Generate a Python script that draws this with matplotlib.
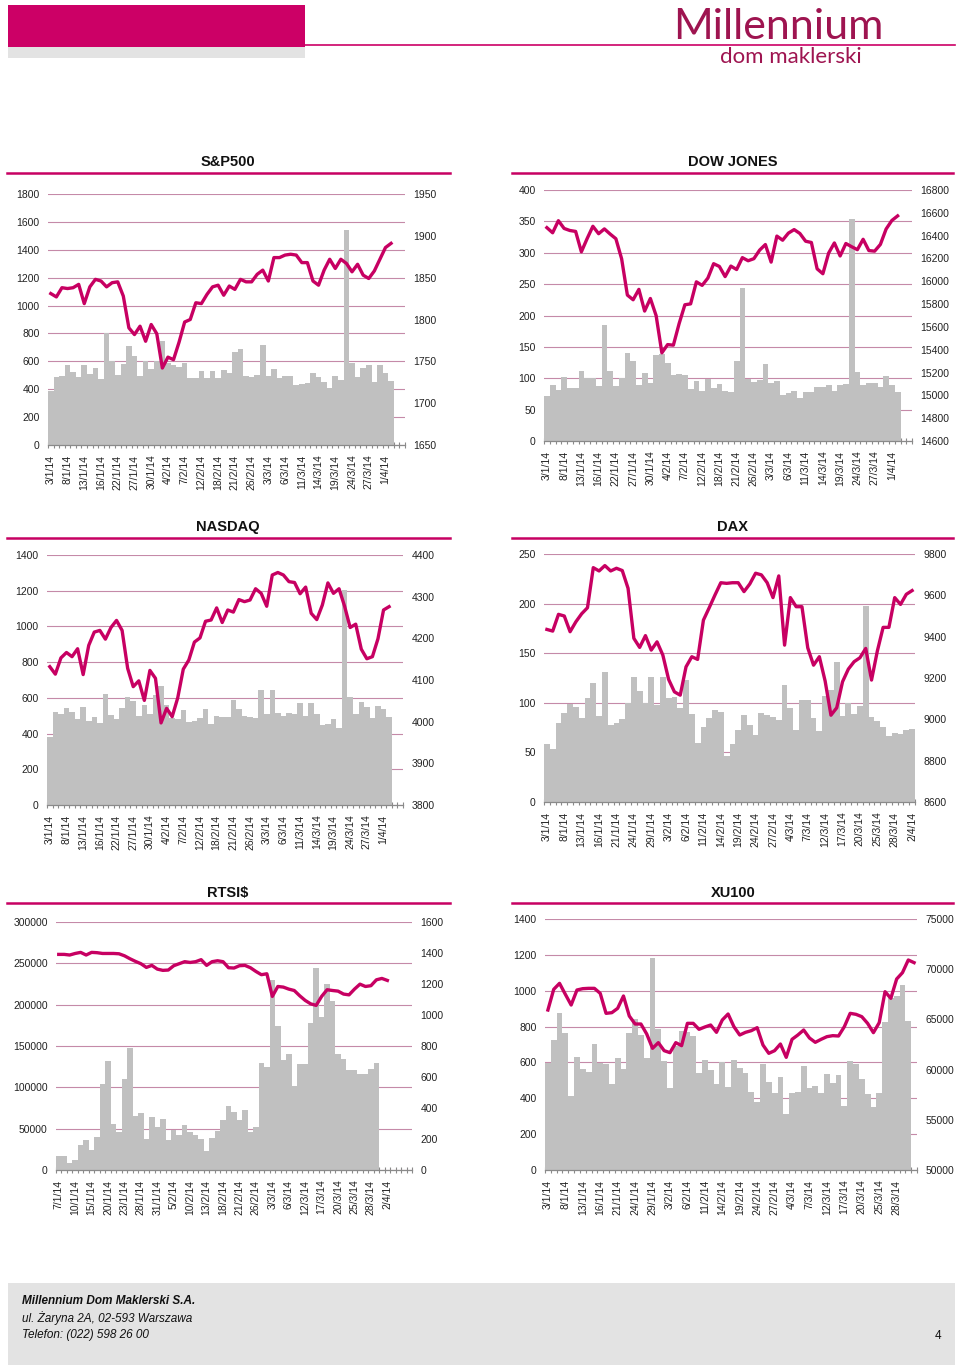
import matplotlib
matplotlib.use("Agg")
import matplotlib.pyplot as plt
from matplotlib.lines import Line2D
from matplotlib.patches import Rectangle
import numpy as np

plt.rcParams['font.family'] = ['Liberation Sans', 'DejaVu Sans']

W, H = 960, 1367
MAG = '#c70062'
GRID = '#c58aa8'
BAR = '#c0c0c0'

# ---------------- data ----------------
US_DATES = ['3/1/14', '8/1/14', '13/1/14', '16/1/14', '22/1/14', '27/1/14', '30/1/14', '4/2/14',
            '7/2/14', '12/2/14', '18/2/14', '21/2/14', '26/2/14', '3/3/14', '6/3/14', '11/3/14',
            '14/3/14', '19/3/14', '24/3/14', '27/3/14', '1/4/14']
DAX_DATES = ['3/1/14', '8/1/14', '13/1/14', '16/1/14', '21/1/14', '24/1/14', '29/1/14', '3/2/14',
             '6/2/14', '11/2/14', '14/2/14', '19/2/14', '24/2/14', '27/2/14', '4/3/14', '7/3/14',
             '12/3/14', '17/3/14', '20/3/14', '25/3/14', '28/3/14', '2/4/14']
RTS_DATES = ['7/1/14', '10/1/14', '15/1/14', '20/1/14', '23/1/14', '28/1/14', '31/1/14', '5/2/14',
             '10/2/14', '13/2/14', '18/2/14', '21/2/14', '26/2/14', '3/3/14', '6/3/14', '12/3/14',
             '17/3/14', '20/3/14', '25/3/14', '28/3/14', '2/4/14']
XU_DATES = ['3/1/14', '8/1/14', '13/1/14', '16/1/14', '21/1/14', '24/1/14', '29/1/14', '3/2/14',
            '6/2/14', '11/2/14', '14/2/14', '19/2/14', '24/2/14', '27/2/14', '4/3/14', '7/3/14',
            '12/3/14', '17/3/14', '20/3/14', '25/3/14', '28/3/14']

SP_VOL = [385, 490, 497, 575, 520, 485, 572, 510, 553, 472, 805, 600, 503, 578, 712, 636, 497, 605,
          545, 600, 745, 585, 575, 560, 585, 480, 480, 530, 483, 533, 483, 537, 518, 670, 690, 497,
          490, 503, 715, 497, 542, 478, 497, 495, 430, 440, 445, 515, 490, 452, 407, 497, 468, 1545,
          585, 490, 555, 577, 452, 577, 515, 462]
SP_IDX = [1831, 1827, 1838, 1837, 1838, 1842, 1819, 1839, 1848, 1846, 1839, 1844, 1845, 1828, 1790,
          1782, 1792, 1774, 1794, 1783, 1742, 1755, 1752, 1773, 1797, 1800, 1820, 1819, 1830, 1839,
          1841, 1829, 1840, 1836, 1848, 1845, 1845, 1854, 1859, 1846, 1874, 1874, 1877, 1878, 1877,
          1868, 1868, 1846, 1841, 1859, 1872, 1861, 1872, 1867, 1857, 1866, 1853, 1849, 1858, 1872,
          1886, 1891]

DJ_VOL = [72, 89, 81, 102, 84, 85, 111, 100, 101, 88, 185, 111, 87, 100, 141, 127, 89, 109, 92, 137,
          138, 124, 105, 107, 105, 83, 96, 80, 99, 84, 91, 80, 78, 127, 244, 99, 94, 97, 122, 93, 96,
          73, 76, 80, 68, 78, 78, 86, 86, 89, 79, 90, 91, 353, 110, 89, 93, 93, 86, 104, 89, 78]
DJ_IDX = [16470, 16425, 16531, 16463, 16445, 16437, 16258, 16374, 16482, 16417, 16459, 16414, 16373,
          16197, 15879, 15838, 15929, 15739, 15849, 15699, 15373, 15445, 15440, 15629, 15794, 15802,
          15995, 15964, 16028, 16154, 16130, 16041, 16133, 16103, 16207, 16180, 16198, 16273, 16322,
          16168, 16396, 16360, 16422, 16453, 16419, 16351, 16340, 16109, 16066, 16247, 16336, 16222,
          16331, 16303, 16277, 16368, 16269, 16264, 16323, 16458, 16533, 16573]

NQ_VOL = [380, 523, 510, 546, 523, 482, 548, 471, 492, 458, 620, 503, 482, 546, 607, 583, 499, 559,
          507, 617, 664, 561, 490, 484, 533, 464, 473, 486, 536, 454, 499, 495, 493, 587, 535, 497,
          493, 490, 645, 510, 645, 516, 501, 514, 507, 574, 501, 570, 508, 449, 456, 479, 434, 1205,
          606, 510, 576, 551, 486, 553, 538, 495]
NQ_IDX = [4132, 4114, 4153, 4166, 4156, 4175, 4113, 4183, 4215, 4219, 4198, 4226, 4243, 4219, 4128,
          4084, 4098, 4051, 4123, 4104, 3997, 4032, 4012, 4057, 4126, 4148, 4191, 4201, 4241, 4244,
          4273, 4238, 4268, 4263, 4293, 4288, 4292, 4319, 4308, 4277, 4352, 4358, 4352, 4336, 4334,
          4307, 4323, 4260, 4245, 4280, 4333, 4308, 4319, 4277, 4226, 4234, 4174, 4151, 4156, 4199,
          4268, 4276]

DAX_VOL = [58, 53, 80, 90, 99, 96, 85, 105, 120, 87, 131, 78, 80, 84, 100, 126, 112, 100, 126, 98,
           126, 105, 106, 95, 123, 89, 59, 76, 85, 93, 91, 46, 58, 73, 88, 78, 68, 90, 88, 86, 83,
           118, 95, 73, 103, 103, 85, 72, 107, 113, 141, 87, 100, 89, 97, 198, 86, 82, 76, 67, 70,
           69, 73, 74]
DAX_IDX = [9435, 9427, 9508, 9500, 9424, 9472, 9511, 9540, 9734, 9718, 9744, 9718, 9731, 9720, 9634,
           9392, 9348, 9405, 9335, 9375, 9311, 9193, 9133, 9117, 9254, 9303, 9290, 9480, 9540, 9602,
           9661, 9658, 9661, 9661, 9618, 9655, 9707, 9699, 9661, 9589, 9694, 9359, 9589, 9545, 9545,
           9346, 9262, 9303, 9185, 9020, 9056, 9182, 9243, 9279, 9298, 9343, 9190, 9330, 9445, 9445,
           9589, 9556, 9605, 9623]

RTS_VOL = [17000, 17000, 8900, 12100, 29900, 36750, 24200, 40400, 104200, 132000, 55300, 45600,
           110200, 147400, 65800, 69500, 37600, 64600, 52100, 62200, 35900, 48900, 42400, 54900,
           46000, 42000, 38000, 23400, 39200, 47700, 60600, 78000, 70300, 60600, 72700, 46000, 52500,
           130000, 125200, 230200, 174500, 132500, 140600, 102200, 128000, 128400, 177700, 244300,
           185000, 225400, 204800, 140600, 134100, 121200, 120400, 116700, 116300, 122000, 129600]
RTS_IDX = [1391, 1391, 1387, 1397, 1404, 1387, 1404, 1402, 1397, 1397, 1397, 1395, 1382, 1363, 1346,
           1331, 1307, 1320, 1296, 1288, 1290, 1318, 1331, 1344, 1339, 1344, 1357, 1320, 1344, 1350,
           1344, 1305, 1303, 1318, 1320, 1305, 1281, 1260, 1266, 1120, 1184, 1180, 1167, 1158, 1124,
           1094, 1072, 1062, 1120, 1163, 1158, 1154, 1135, 1130, 1167, 1199, 1184, 1189, 1227, 1236,
           1223]

XU_VOL = [599, 725, 877, 762, 413, 628, 561, 548, 703, 595, 591, 480, 623, 561, 762, 840, 753, 627,
          1184, 788, 606, 460, 690, 775, 770, 750, 540, 613, 558, 478, 604, 465, 613, 567, 539, 437,
          381, 589, 493, 428, 517, 312, 428, 433, 580, 459, 470, 428, 533, 483, 530, 355, 608, 592,
          505, 422, 350, 430, 827, 962, 970, 1030, 833]
XU_IDX = [65936, 67995, 68592, 67497, 66434, 67928, 68061, 68094, 68094, 67596, 65604, 65670, 66102,
          67331, 65339, 64542, 64542, 63546, 62118, 62683, 61886, 61687, 62683, 62384, 64608, 64608,
          64011, 64243, 64442, 63712, 64940, 65538, 64276, 63446, 63712, 63878, 64177, 62450, 61620,
          61886, 62550, 61222, 63015, 63446, 63944, 63147, 62716, 63015, 63280, 63380, 63346, 64276,
          65604, 65505, 65272, 64608, 63678, 64675, 67762, 67098, 69024, 69655, 70916, 70651]

fig = plt.figure(figsize=(W / 100, H / 100), dpi=100)
fig.patch.set_facecolor('white')


def fx(x):
    return x / W


def fy(y):
    return 1 - y / H


def rect(x0, y0, x1, y1):
    return [fx(x0), fy(y1), (x1 - x0) / W, (y1 - y0) / H]


def hline(x0, x1, y, color, lw):
    fig.add_artist(Line2D([fx(x0), fx(x1)], [fy(y), fy(y)], color=color, lw=lw,
                          transform=fig.transFigure))


def panel(box, title, tcx, tcy, lx0, lx1, ly, vol, idx, ncat, dates,
          lticks, rticks, lfmt=str):
    ax = fig.add_axes(rect(*box))
    ax.bar(np.arange(len(vol)), vol, width=1.0, color=BAR, zorder=2, linewidth=0)
    ax.set_xlim(-0.5, ncat - 0.5)
    ax.set_ylim(lticks[0], lticks[-1])
    ax.set_yticks(lticks)
    ax.set_yticklabels([lfmt(t) for t in lticks])
    ax.yaxis.grid(True, color=GRID, lw=0.8, zorder=0)
    ax.set_axisbelow(True)
    for s in ['top', 'left', 'right']:
        ax.spines[s].set_visible(False)
    ax.spines['bottom'].set_color('#8a8a8a')
    ax.spines['bottom'].set_linewidth(0.9)
    ax.spines['bottom'].set_zorder(5)
    ax.tick_params(axis='y', length=0, pad=6, labelsize=7.5, labelcolor='#222222')
    pos = np.arange(len(dates)) * 3
    ax.set_xticks(pos)
    ax.set_xticklabels(dates, rotation=90, fontsize=7.5, color='#222222')
    ax.tick_params(axis='x', which='major', length=0, pad=7)
    ax.set_xticks(np.arange(ncat + 1) - 0.5, minor=True)
    ax.tick_params(axis='x', which='minor', direction='inout', length=5, width=0.8,
                   color='#8a8a8a')

    ax2 = ax.twinx()
    ax2.plot(np.arange(len(idx)), idx, color=MAG, lw=2.4, solid_joinstyle='round', zorder=4)
    ax2.set_ylim(rticks[0], rticks[-1])
    ax2.set_yticks(rticks)
    ax2.set_yticklabels([str(t) for t in rticks])
    ax2.tick_params(axis='y', length=0, pad=6, labelsize=7.5, labelcolor='#222222')
    for s in ax2.spines.values():
        s.set_visible(False)

    fig.text(fx(tcx), fy(tcy), title, ha='center', va='center', fontsize=10.5,
             fontweight='bold', color='#111111')
    hline(lx0, lx1, ly, MAG, 1.8)
    return ax


# --------------- header ---------------
fig.add_artist(Rectangle((fx(8), fy(47)), (305 - 8) / W, (47 - 5) / H, color='#cc0066',
                         transform=fig.transFigure, lw=0))
fig.add_artist(Rectangle((fx(8), fy(58)), (305 - 8) / W, (58 - 47) / H, color='#e3e3e3',
                         transform=fig.transFigure, lw=0))
hline(305, 955, 44.5, '#cc0066', 1.2)
fig.text(fx(673), fy(39), 'Millennium', fontsize=31, color='#9e1450', family=['Lato', 'DejaVu Sans'],
         fontweight='normal', ha='left', va='baseline')
fig.text(fx(720), fy(63), 'dom maklerski', fontsize=16, color='#9e1450',
         family=['Lato', 'DejaVu Sans'], ha='left', va='baseline')

# --------------- panels ---------------
panel((48, 194, 405, 445), 'S&P500', 228, 162, 7, 450, 173, SP_VOL, SP_IDX, 64, US_DATES,
      list(range(0, 1801, 200)), list(range(1650, 1951, 50)))
panel((544, 190, 912, 441), 'DOW JONES', 733, 162, 512, 953, 173, DJ_VOL, DJ_IDX, 64, US_DATES,
      list(range(0, 401, 50)), list(range(14600, 16801, 200)))
panel((47, 555, 403, 805), 'NASDAQ', 228, 527, 7, 450, 538, NQ_VOL, NQ_IDX, 64, US_DATES,
      list(range(0, 1401, 200)), list(range(3800, 4401, 100)))
panel((544, 554, 915, 802), 'DAX', 733, 527, 512, 953, 538, DAX_VOL, DAX_IDX, 64, DAX_DATES,
      list(range(0, 251, 50)), list(range(8600, 9801, 200)))
panel((56, 922, 412, 1170), 'RTSI$', 228, 893, 7, 450, 903, RTS_VOL, RTS_IDX, 65, RTS_DATES,
      list(range(0, 300001, 50000)), list(range(0, 1601, 200)))
panel((545, 919, 917, 1170), 'XU100', 733, 893, 512, 953, 903, XU_VOL, XU_IDX, 64, XU_DATES,
      list(range(0, 1401, 200)), list(range(50000, 75001, 5000)))

# --------------- footer ---------------
fig.add_artist(Rectangle((fx(8), fy(1365)), (955 - 8) / W, (1365 - 1283) / H, color='#e3e3e3',
                         transform=fig.transFigure, lw=0))
fig.text(fx(22), fy(1301), 'Millennium Dom Maklerski S.A.', fontsize=8.5, fontstyle='italic',
         fontweight='bold', va='center', ha='left', color='#111111')
fig.text(fx(22), fy(1318), 'ul. Żaryna 2A, 02-593 Warszawa', fontsize=8.5, fontstyle='italic',
         va='center', ha='left', color='#111111')
fig.text(fx(22), fy(1335), 'Telefon: (022) 598 26 00', fontsize=8.5, fontstyle='italic',
         va='center', ha='left', color='#111111')
fig.text(fx(938), fy(1336), '4', fontsize=8.5, va='center', ha='center', color='#111111')

fig.savefig('out.png', dpi=100, facecolor='white')
